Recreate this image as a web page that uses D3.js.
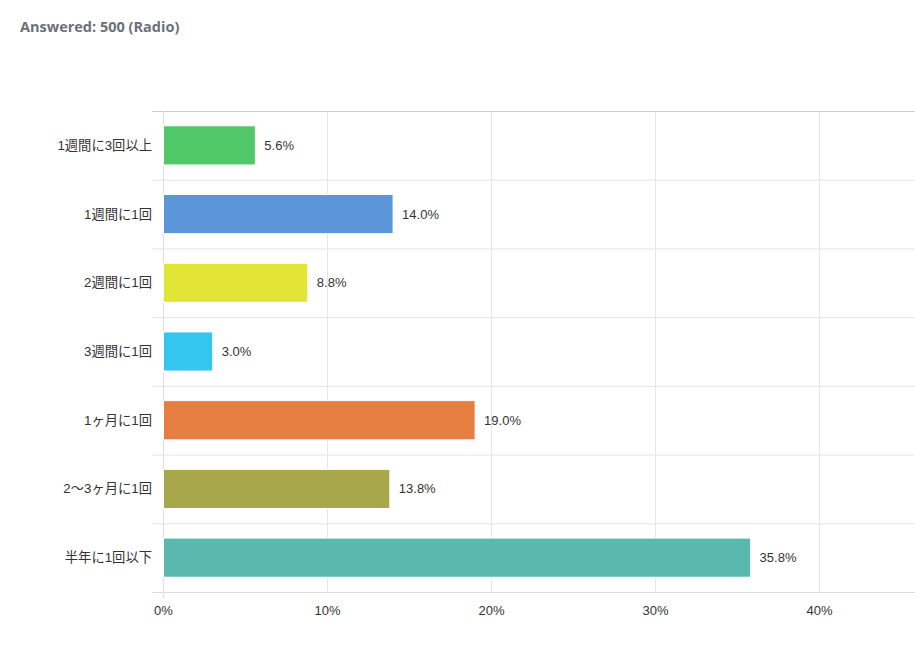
<!DOCTYPE html>
<html><head><meta charset="utf-8">
<script src="https://cdn.jsdelivr.net/npm/d3@7"></script>
<style>
html,body{margin:0;padding:0;background:#fff;overflow:hidden;}
svg{display:block;font-family:"Liberation Sans",Arial,"Noto Sans CJK JP",sans-serif;}
</style></head>
<body>
<svg id="chart" width="915" height="649"></svg>
<script>
const title = "Answered: 500 (Radio)";
const categories = ["1週間に3回以上","1週間に1回","2週間に1回","3週間に1回","1ヶ月に1回","2〜3ヶ月に1回","半年に1回以下"];
const values = [5.6, 14.0, 8.8, 3.0, 19.0, 13.8, 35.8];
const colors = ["#50c868","#5b96d9","#e3e536","#35c6ef","#e57e40","#a8a84a","#5ab9ae"];
const xTicks = [0, 10, 20, 30, 40];

(function () {
const svg = d3.select("#chart");
const mLeft = 163.5, mTop = 111, mBottom = 592, mRight = 163.5 + 50 * 16.4;

svg.append("text").attr("x", 20).attr("y", 32)
  .attr("font-family", "'Open Sans', 'Liberation Sans', sans-serif")
  .attr("font-size", 14.5).attr("font-weight", "bold").attr("fill", "#6b7079")
  .text(title);

const x = d3.scaleLinear().domain([0, 50]).range([mLeft, mRight]);
const y = d3.scaleBand().domain(categories).range([mTop, mBottom]).padding(0);
const bw = y.bandwidth();

svg.append("g").selectAll("line").data(xTicks.slice(1)).join("line")
  .attr("x1", d => x(d)).attr("x2", d => x(d))
  .attr("y1", mTop).attr("y2", mBottom)
  .attr("stroke", "#e6e6e6").attr("stroke-width", 1);

svg.append("g").selectAll("line").data(categories.slice(1)).join("line")
  .attr("x1", 152).attr("x2", 915)
  .attr("y1", d => y(d) + 0.5).attr("y2", d => y(d) + 0.5)
  .attr("stroke", "#e6e6e6");

svg.append("line").attr("x1", 152).attr("x2", 915).attr("y1", mTop + 0.5).attr("y2", mTop + 0.5).attr("stroke", "#cccccc");
svg.append("line").attr("x1", 152).attr("x2", 915).attr("y1", mBottom + 0.5).attr("y2", mBottom + 0.5).attr("stroke", "#dddddd");
svg.append("line").attr("x1", x(0)).attr("x2", x(0)).attr("y1", mTop).attr("y2", mBottom + 6).attr("stroke", "#dddddd");

svg.append("g").selectAll("rect").data(categories).join("rect")
  .attr("x", x(0)).attr("y", d => y(d) + bw * 0.215)
  .attr("width", (d, i) => x(values[i]) - x(0))
  .attr("height", bw * 0.57)
  .attr("fill", (d, i) => colors[i])
  .attr("stroke", "#ffffff").attr("stroke-width", 1);

svg.append("g").selectAll("text").data(categories).join("text")
  .attr("x", (d, i) => x(values[i]) + 9)
  .attr("y", d => y(d) + bw / 2 + 4.5)
  .attr("font-size", 13).attr("fill", "#333")
  .text((d, i) => values[i].toFixed(1) + "%");

svg.append("g").selectAll("text").data(categories).join("text")
  .attr("x", 152).attr("y", d => y(d) + bw / 2 + 4.5)
  .attr("text-anchor", "end")
  .attr("font-size", 13.3).attr("fill", "#333")
  .text(d => d);

svg.append("g").selectAll("text").data(xTicks).join("text")
  .attr("x", d => x(d)).attr("y", 615)
  .attr("text-anchor", "middle")
  .attr("font-size", 13).attr("fill", "#333")
  .text(d => d + "%");
})();
</script>
</body></html>
